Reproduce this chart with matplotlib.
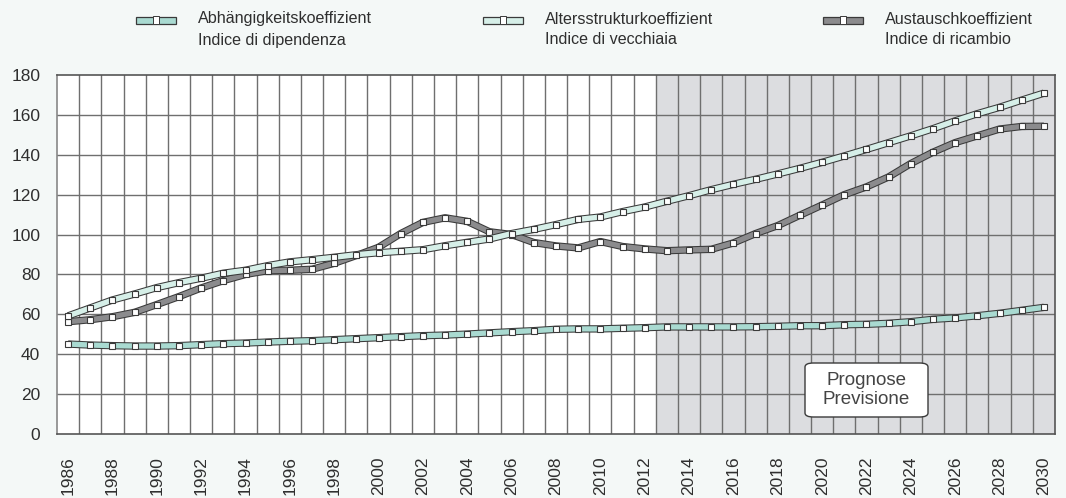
import numpy as np
import matplotlib
matplotlib.use('Agg')
from matplotlib import pyplot as plt
from matplotlib.patches import Rectangle, FancyBboxPatch

years = list(range(1986, 2031))

abhaengigkeit = [45.1, 44.6, 44.3, 44.1, 44.1, 44.3, 44.8, 45.3, 45.6, 46.1,
                 46.5, 46.8, 47.3, 47.8, 48.3, 48.8, 49.3, 49.6, 50.1, 50.7,
                 51.3, 51.8, 52.5, 52.7, 52.7, 53.0, 53.3, 53.7, 53.7, 53.7,
                 53.7, 53.8, 54.0, 54.3, 54.3, 54.8, 55.0, 55.5, 56.3, 57.5,
                 58.2, 59.3, 60.5, 62.0, 63.5]
altersstruktur = [59.2, 63.2, 67.2, 70.2, 73.4, 75.9, 78.1, 80.6, 82.1, 84.4,
                  86.3, 87.4, 88.6, 89.9, 90.9, 91.6, 92.4, 94.4, 96.1, 97.8,
                  100.5, 102.6, 105.0, 107.6, 108.8, 111.5, 113.8, 116.7, 119.5, 122.5,
                  125.2, 127.7, 130.4, 133.2, 136.2, 139.4, 142.7, 146.1, 149.5, 153.1,
                  157.0, 160.6, 163.8, 167.4, 170.9]
austausch = [56.3, 57.3, 58.8, 61.0, 64.9, 68.9, 73.2, 76.9, 80.0, 81.9,
             82.1, 82.6, 85.6, 89.5, 93.6, 100.5, 106.1, 108.4, 106.6, 101.4,
             100.0, 96.0, 94.3, 93.3, 96.5, 94.0, 92.8, 91.9, 92.3, 92.6,
             95.8, 100.5, 104.5, 109.7, 114.8, 120.0, 123.9, 128.9, 135.6, 141.3,
             146.1, 149.5, 152.9, 154.2, 154.3]

labels_de = ['Abhängigkeitskoeffizient', 'Altersstrukturkoeffizient', 'Austauschkoeffizient']
labels_it = ['Indice di dipendenza', 'Indice di vecchiaia', 'Indice di ricambio']
fills = ['#a9dad1', '#d6efe8', '#8b8b8d']
edge = '#3a3a3a'
forecast_start = 2013

plt.rcParams['font.family'] = ['Liberation Sans', 'DejaVu Sans']
txt = '#2f2f2f'

W, H = 1066, 498
fig = plt.figure(figsize=(W / 100, H / 100), dpi=100, facecolor='#f4f8f7')
ax = fig.add_axes([57 / W, 1 - 434 / H, (1055 - 57) / W, (434 - 75) / H])

x = np.arange(len(years))
ax.set_xlim(-0.5, len(years) - 0.5)
ax.set_ylim(0, 180)
ax.set_facecolor('white')

fi = years.index(forecast_start)
ax.axvspan(fi - 0.5, len(years) - 0.5, color='#dcdde0', zorder=0.5, lw=0)

for yv in range(20, 180, 20):
    ax.axhline(yv, color='#6f6f6f', lw=1.0, zorder=1)
for xv in x[:-1]:
    ax.axvline(xv + 0.5, color='#6f6f6f', lw=1.0, zorder=1)

series = [abhaengigkeit, austausch, altersstruktur]
cols = [fills[0], fills[2], fills[1]]
for k, (s, c) in enumerate(zip(series, cols)):
    z = 3 + k
    ax.plot(x, s, color=edge, lw=5.3, solid_joinstyle='round', solid_capstyle='butt', zorder=z)
    ax.plot(x, s, color=c, lw=3.8, solid_joinstyle='round', solid_capstyle='butt', zorder=z)
    ax.plot(x, s, 's', ms=4.2, mfc='white', mec=edge, mew=0.8, zorder=z)

ax.set_yticks(range(0, 181, 20))
ax.set_xticks(x[::2])
ax.set_xticklabels([str(y) for y in years[::2]], rotation=90)
ax.tick_params(axis='both', length=0, labelsize=12.5, colors=txt)
ax.tick_params(axis='y', pad=12)
ax.tick_params(axis='x', pad=16)
for sp in ax.spines.values():
    sp.set_color('#555555')
    sp.set_linewidth(1.2)
ax.spines['left'].set_color('#888888')

box = FancyBboxPatch((805 / W, 1 - 417 / H), (928 - 805) / W, (417 - 363) / H,
                     boxstyle='round,pad=0,rounding_size=0.008', transform=fig.transFigure,
                     facecolor='white', edgecolor=edge, lw=1.0, zorder=10)
fig.add_artist(box)
fig.text(866.5 / W, 1 - 390 / H, 'Prognose\nPrevisione', ha='center', va='center',
         fontsize=13.5, color='#444444', linespacing=1.1, zorder=11)

# legend drawn by hand, handle level with first text line
leg_x = [136, 483, 823]
for lx, de, it, c in zip(leg_x, labels_de, labels_it, fills):
    fig.add_artist(Rectangle((lx / W, 1 - 24 / H), 40 / W, 7 / H, transform=fig.transFigure,
                             facecolor=c, edgecolor=edge, lw=0.9))
    fig.add_artist(Rectangle(((lx + 17) / W, 1 - 24.5 / H), 6 / W, 8 / H, transform=fig.transFigure,
                             facecolor='white', edgecolor=edge, lw=0.7))
    fig.text((lx + 62) / W, 1 - 19 / H, de, fontsize=11.6, color=txt, va='center')
    fig.text((lx + 62) / W, 1 - 40 / H, it, fontsize=11.6, color=txt, va='center')

fig.savefig('out.png', dpi=100, facecolor=fig.get_facecolor())
